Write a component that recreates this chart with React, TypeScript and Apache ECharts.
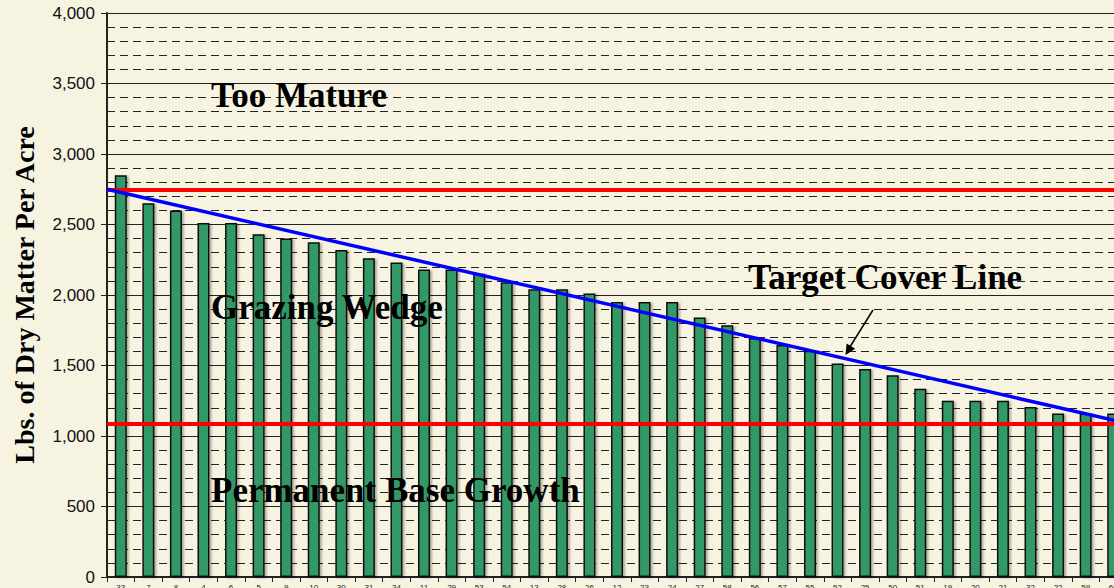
import React, { useEffect, useRef } from "react";
import * as echarts from "echarts";

const paddocks = ["33","7","8","4","6","5","9","10","30","31","34","11","29","53","54","13","28","26","12","23","24","27","58","56","57","55","52","25","50","51","19","20","21","32","22","59","60"];
const dryMatter = [2850,2650,2600,2510,2510,2430,2400,2375,2320,2260,2230,2180,2180,2150,2090,2040,2040,2010,1950,1950,1950,1840,1785,1695,1645,1605,1515,1475,1430,1335,1250,1250,1250,1205,1160,1160,1160];
const upperLimit = 2750;
const baseLimit = 1090;
const targetLine = [[0, 2750], [37, 1090]];
const yTicks = { min: 0, max: 4000, interval: 500 };

const SERIF = "'Liberation Serif', 'Times New Roman', serif";
const SANS = "'Liberation Sans', Arial, sans-serif";

export default function App() {
  const ref = useRef<HTMLDivElement>(null);
  useEffect(() => {
    if (!ref.current) return;
    const chart = echarts.init(ref.current, null, { renderer: "svg" });
    const bigText = (text: string, x: number, y: number) => ({
      type: "text",
      x,
      y,
      z: 100,
      style: {
        text,
        font: `bold 35px ${SERIF}`,
        fill: "#000",
        textAlign: "left",
        textVerticalAlign: "bottom",
      },
    });
    chart.setOption({
      animation: false,
      backgroundColor: "#F6F3E0",
      grid: {
        left: 107,
        top: 13,
        width: 1020,
        height: 564,
        containLabel: false,
        outerBoundsMode: "none",
      },
      xAxis: [
        {
          type: "category",
          data: paddocks,
          axisLine: { lineStyle: { color: "#222", width: 2 } },
          axisTick: { show: true, length: 5, interval: 0, lineStyle: { color: "#222" } },
          axisLabel: { interval: 0, fontSize: 8, margin: 6, color: "#222", fontFamily: SANS },
          splitLine: { show: false },
        },
        {
          type: "value",
          min: 0,
          max: 37,
          show: false,
        },
      ],
      yAxis: {
        type: "value",
        min: yTicks.min,
        max: yTicks.max,
        interval: yTicks.interval,
        axisLine: { show: true, lineStyle: { color: "#222", width: 2 } },
        axisTick: { show: true, length: 6, lineStyle: { color: "#222" } },
        axisLabel: {
          fontSize: 17,
          color: "#111",
          margin: 12,
          fontFamily: SANS,
          formatter: (v: number) => v.toLocaleString("en-US"),
        },
        splitLine: { show: true, lineStyle: { color: "#222", width: 1 } },
        minorTick: { show: false, splitNumber: 5 },
        minorSplitLine: { show: true, lineStyle: { color: "#222", width: 1, type: [8, 5] } },
      },
      series: [
        {
          type: "bar",
          data: dryMatter,
          barWidth: 12,
          itemStyle: {
            color: "#339966",
            borderColor: "#111",
            borderWidth: 1.5,
            shadowColor: "rgba(0,0,0,0.3)",
            shadowBlur: 2,
            shadowOffsetX: 2,
            shadowOffsetY: 1,
          },
          markLine: {
            silent: true,
            symbol: "none",
            label: { show: false },
            lineStyle: { color: "#FF0000", width: 4, type: "solid" },
            data: [{ yAxis: upperLimit }, { yAxis: baseLimit }],
          },
          z: 2,
        },
        {
          type: "line",
          xAxisIndex: 1,
          data: targetLine,
          symbol: "none",
          lineStyle: { color: "#0000FF", width: 3.5 },
          z: 5,
        },
      ],
      graphic: [
        {
          type: "text",
          x: 24,
          y: 295,
          rotation: Math.PI / 2,
          z: 100,
          style: {
            text: "Lbs. of Dry Matter Per Acre",
            font: `bold 28px ${SERIF}`,
            fill: "#000",
            textAlign: "center",
            textVerticalAlign: "middle",
          },
        },
        bigText("Too Mature", 211, 113),
        bigText("Grazing Wedge", 211, 325),
        bigText("Permanent Base Growth", 211, 508),
        bigText("Target Cover Line", 748, 295),
        {
          type: "line",
          z: 100,
          shape: { x1: 873, y1: 310, x2: 848, y2: 350 },
          style: { stroke: "#000", lineWidth: 1.5 },
        },
        {
          type: "polygon",
          z: 100,
          shape: { points: [[845.5, 355], [846.6, 343.5], [855.2, 348.8]] },
          style: { fill: "#000" },
        },
      ],
    });
    return () => chart.dispose();
  }, []);
  return (
    <div
      ref={ref}
      style={{ position: "fixed", left: 0, top: 0, width: 1114, height: 588 }}
    />
  );
}
